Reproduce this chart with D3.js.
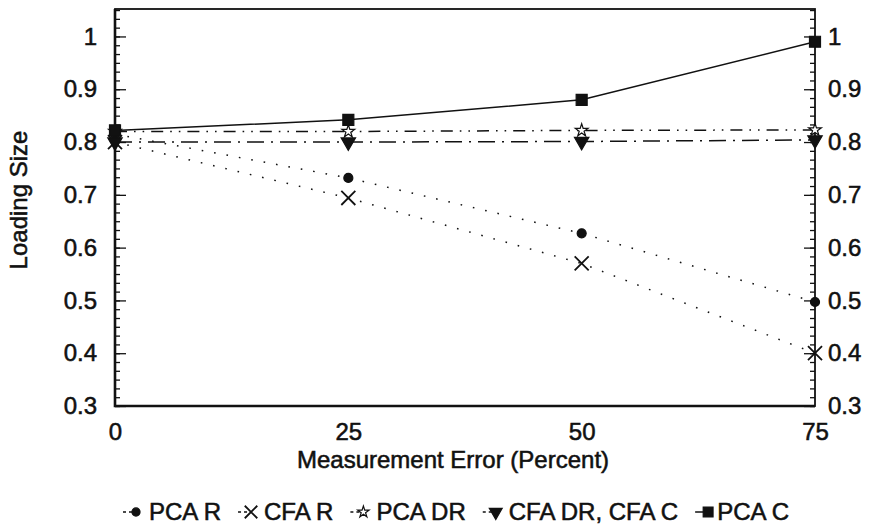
<!DOCTYPE html>
<html>
<head>
<meta charset="utf-8">
<script src="https://cdn.jsdelivr.net/npm/d3@7"></script>
<style>
  body { margin: 0; background: #fff; }
  text { font-family: "Liberation Sans", Arial, Helvetica, sans-serif; fill: #111; stroke: #111; stroke-width: 0.55px; }
</style>
</head>
<body>
<div id="chart"></div>
<script>
    // measurement error levels (x) and loading sizes per method
    var errors = [0, 25, 50, 75];
    var pcaR  = [0.815, 0.732, 0.627, 0.497];
    var cfaR  = [0.80, 0.694, 0.570, 0.40];
    var pcaDR = [0.82, 0.82, 0.822, 0.823];
    var cfaDR = [0.80, 0.80, 0.801, 0.804];
    var pcaC  = [0.822, 0.842, 0.88, 0.99];
    var seriesNames = ["PCA R", "CFA R", "PCA DR", "CFA DR, CFA C", "PCA C"];
    var yTicks = [0.3, 0.4, 0.5, 0.6, 0.7, 0.8, 0.9, 1];
    var xTicks = [0, 25, 50, 75];

    var width = 870;
    var height = 529;

    var canvas = d3.select('#chart').append('svg')
                    .attr("width", width)
                    .attr("height", height);

    var x = d3.scaleLinear().domain([0, 75]).range([115, 815]);
    var y = d3.scaleLinear().domain([0.3, 1.052]).range([406, 9]);

    var fmt = function(d){ return String(+d.toFixed(1)); };

    // minor ticks every 1/60
    var minor = d3.range(0, 46).map(function(i){ return 0.3 + i/60; });

    canvas.append("g")
        .attr("transform", "translate(115,0)")
        .call(d3.axisLeft(y).tickValues(minor).tickSize(-5).tickFormat(""))
        .call(function(g){ g.select(".domain").remove(); });
    canvas.append("g")
        .attr("transform", "translate(815,0)")
        .call(d3.axisRight(y).tickValues(minor).tickSize(-5).tickFormat(""))
        .call(function(g){ g.select(".domain").remove(); });

    var left = canvas.append("g")
        .attr("transform", "translate(115,0)")
        .call(d3.axisLeft(y).tickValues(yTicks).tickSize(-11).tickPadding(18).tickFormat(fmt));
    var right = canvas.append("g")
        .attr("transform", "translate(815,0)")
        .call(d3.axisRight(y).tickValues(yTicks).tickSize(-11).tickPadding(13).tickFormat(fmt));
    var bottom = canvas.append("g")
        .attr("transform", "translate(0,406)")
        .call(d3.axisBottom(x).tickValues(xTicks).tickSize(0).tickPadding(17));

    [left, right, bottom].forEach(function(g){
        g.select(".domain").remove();
        g.selectAll("text").style("font-size", "24px").attr("fill", "#111");
    });
    canvas.selectAll(".tick line").attr("stroke", "#111").attr("stroke-width", 1.3);

    // frame
    canvas.append("rect")
        .attr("x", 115).attr("y", 9)
        .attr("width", 700).attr("height", 397)
        .attr("fill", "none")
        .attr("stroke", "#111")
        .attr("stroke-width", 1.8);
    canvas.append("path")
        .attr("d", "M115,9V406H815")
        .attr("fill", "none")
        .attr("stroke", "#111")
        .attr("stroke-width", 2.6);

    canvas.append("text")
        .text("Measurement Error (Percent)")
        .attr("x", 453).attr("y", 468)
        .attr("text-anchor", "middle")
        .style("font-size", "24px");

    canvas.append("text")
        .text("Loading Size")
        .attr("transform", "translate(27,200) rotate(-90)")
        .attr("text-anchor", "middle")
        .style("font-size", "24px");

    var styles = [
        {vals: pcaR,  dash: "1.6,11",            sym: d3.symbolCircle,   size: 64,  fill: "#111", rot: 0},
        {vals: cfaR,  dash: "1.6,11",            sym: d3.symbolTimes,    size: 130, fill: "none", rot: 0},
        {vals: pcaDR, dash: "12,7,1.6,7,1.6,7",  sym: d3.symbolStar,     size: 50,  fill: "#fff", rot: 0},
        {vals: cfaDR, dash: "17,7,2,7",          sym: d3.symbolTriangle, size: 90,  fill: "#111", rot: 180},
        {vals: pcaC,  dash: null,                sym: d3.symbolSquare,   size: 121, fill: "#111", rot: 0}
    ];

    var line = d3.line()
        .x(function(d, i){ return x(errors[i]); })
        .y(function(d){ return y(d); });

    styles.forEach(function(s){
        canvas.append("path")
            .attr("d", line(s.vals))
            .attr("fill", "none")
            .attr("stroke", "#111")
            .attr("stroke-width", 1.5)
            .attr("stroke-dasharray", s.dash);
    });

    function drawSymbol(g, s, cx, cy, k){
        g.append("path")
            .attr("d", d3.symbol().type(s.sym).size(s.size * k)())
            .attr("transform", "translate(" + cx + "," + cy + ") rotate(" + s.rot + ")")
            .attr("fill", s.fill)
            .attr("stroke", "#111")
            .attr("stroke-width", s.fill == "none" ? 1.8 : 1.2);
    }

    styles.forEach(function(s){
        s.vals.forEach(function(v, i){
            drawSymbol(canvas, s, x(errors[i]), y(v), 1);
        });
    });

    // legend
    var legend = canvas.append("g");
    var lx = 123;
    var ly = 520;
    styles.forEach(function(s, i){
        legend.append("line")
            .attr("x1", lx).attr("x2", lx + 12)
            .attr("y1", ly - 8).attr("y2", ly - 8)
            .attr("stroke", "#111")
            .attr("stroke-width", 1.5)
            .attr("stroke-dasharray", s.dash ? "3,3" : null);
        drawSymbol(legend, s, lx + 13, ly - 8, 0.8);
        var t = legend.append("text")
            .text(seriesNames[i])
            .attr("x", lx + (i == 4 ? 22 : 26))
            .attr("y", ly)
            .style("font-size", "24px");
        lx = lx + (i == 4 ? 22 : 26) + t.node().getComputedTextLength() + 17;
    });
</script>
</body>
</html>
